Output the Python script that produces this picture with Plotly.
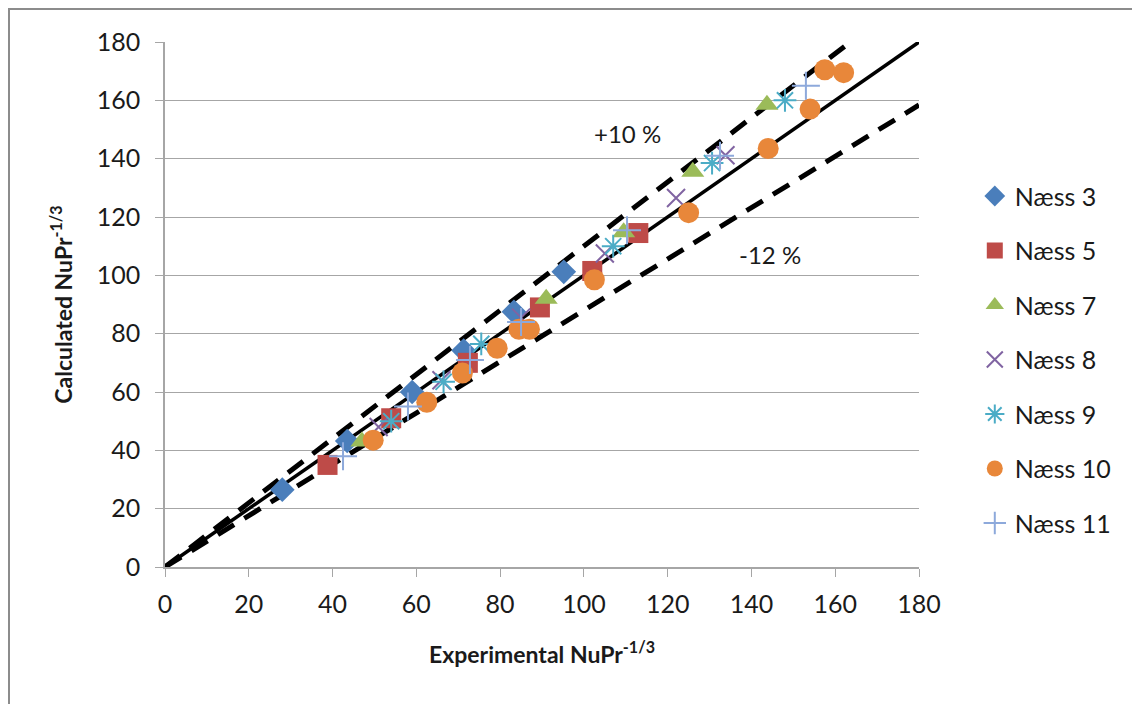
import plotly.graph_objects as go

# ---- data ----
naess3_x = [28.0, 43.5, 59.0, 71.3, 83.3, 95.2]
naess3_y = [26.5, 43.2, 60.0, 74.2, 87.5, 101.2]

naess5_x = [38.8, 54.0, 72.3, 89.5, 102.0, 113.0]
naess5_y = [35.0, 51.0, 70.0, 89.0, 101.5, 114.5]

naess7_x = [47.0, 91.0, 109.5, 126.0, 143.7]
naess7_y = [43.0, 92.0, 114.8, 135.5, 158.5]

naess8_x = [51.0, 66.0, 85.0, 105.0, 122.0, 133.8]
naess8_y = [48.0, 64.0, 85.5, 107.5, 126.5, 141.2]

naess9_x = [54.0, 66.5, 75.5, 107.0, 130.6, 148.0]
naess9_y = [50.0, 63.5, 76.5, 110.0, 138.5, 160.0]

naess10_x = [49.7, 62.5, 71.0, 79.3, 84.5, 87.0, 102.5, 125.0, 144.0, 154.0, 157.5, 162.0]
naess10_y = [43.5, 56.5, 66.5, 75.0, 81.5, 81.5, 98.5, 121.5, 143.5, 157.0, 170.5, 169.5]

naess11_x = [42.5, 58.0, 72.8, 85.0, 110.3, 132.5, 153.0]
naess11_y = [38.0, 55.0, 71.0, 84.0, 115.5, 141.0, 165.0]

line_x = [0, 180]
line_y = [0, 180]
plus10_x = [0, 163.6]
plus10_y = [0, 180]
minus12_x = [0, 180]
minus12_y = [0, 158.4]

tick_vals = [0, 20, 40, 60, 80, 100, 120, 140, 160, 180]

FONT = "Lato"

fig = go.Figure()

# reference lines
fig.add_trace(go.Scatter(x=line_x, y=line_y, mode="lines",
                         line=dict(color="black", width=3.5),
                         showlegend=False, hoverinfo="skip"))
fig.add_trace(go.Scatter(x=plus10_x, y=plus10_y, mode="lines",
                         line=dict(color="black", width=5, dash="19px,12px"),
                         showlegend=False, hoverinfo="skip"))
fig.add_trace(go.Scatter(x=minus12_x, y=minus12_y, mode="lines",
                         line=dict(color="black", width=5, dash="19px,12px"),
                         showlegend=False, hoverinfo="skip"))

series = [
    ("Næss 3", naess3_x, naess3_y, "diamond", "#4A7EBB", 19, 0),
    ("Næss 5", naess5_x, naess5_y, "square", "#BE4B48", 20, 0),
    ("Næss 7", naess7_x, naess7_y, "triangle-up", "#9BBB59", 20, 0),
    ("Næss 8", naess8_x, naess8_y, "x-thin-open", "#8064A2", 18, 2),
    ("Næss 9", naess9_x, naess9_y, "asterisk-open", "#4BACC6", 19, 2),
    ("Næss 10", naess10_x, naess10_y, "circle", "#E8873A", 21, 0),
    ("Næss 11", naess11_x, naess11_y, "cross-thin-open", "#8DA9DB", 20, 2),
]

for i, (name, xs, ys, sym, col, size, lw) in enumerate(series):
    marker = dict(symbol=sym, color=col, size=size)
    if lw:
        marker["line"] = dict(color=col, width=lw)
    else:
        marker["line"] = dict(width=0)
    fig.add_trace(go.Scatter(x=xs, y=ys, mode="markers", name=name,
                             marker=marker, legendgroup=f"g{i}"))

fig.add_annotation(x=110.5, y=148.5, text="+10 %", showarrow=False,
                   font=dict(family=FONT, size=24, color="#1a1a1a"))
fig.add_annotation(x=144.5, y=107.3, text="-12 %", showarrow=False,
                   font=dict(family=FONT, size=24, color="#1a1a1a"))

# outer frame
fig.add_shape(type="rect", xref="paper", yref="paper",
              x0=-0.2069, x1=1.32, y0=-0.34, y1=1.0629,
              line=dict(color="#8c8c8c", width=2), fillcolor="rgba(0,0,0,0)",
              layer="below")

fig.update_layout(
    width=1140, height=704,
    margin=dict(l=157, r=229, t=34, b=145),
    paper_bgcolor="white", plot_bgcolor="white",
    font=dict(family=FONT, size=25, color="#1a1a1a"),
    legend=dict(x=1.074, y=0.75, xanchor="left", yanchor="top",
                font=dict(family=FONT, size=25, color="#1a1a1a"),
                tracegroupgap=19, bgcolor="rgba(0,0,0,0)"),
    xaxis=dict(range=[0, 180], tickvals=tick_vals, showgrid=False,
               showline=True, linecolor="#a6a6a6", linewidth=1.5,
               ticks="outside", ticklen=8, tickcolor="#a6a6a6",
               ticklabelstandoff=6, zeroline=False,
               title=dict(text="<b>Experimental NuPr<sup>-1/3</sup></b>",
                          font=dict(family=FONT, size=23), standoff=30)),
    yaxis=dict(range=[0, 180], tickvals=tick_vals, showgrid=True,
               gridcolor="#a6a6a6", gridwidth=1.2,
               showline=True, linecolor="#a6a6a6", linewidth=1.5,
               ticks="outside", ticklen=8, tickcolor="#a6a6a6",
               ticklabelstandoff=10, zeroline=False,
               title=dict(text="<b>Calculated NuPr<sup>-1/3</sup></b>",
                          font=dict(family=FONT, size=23), standoff=18)),
)

fig.write_html("out.html")
